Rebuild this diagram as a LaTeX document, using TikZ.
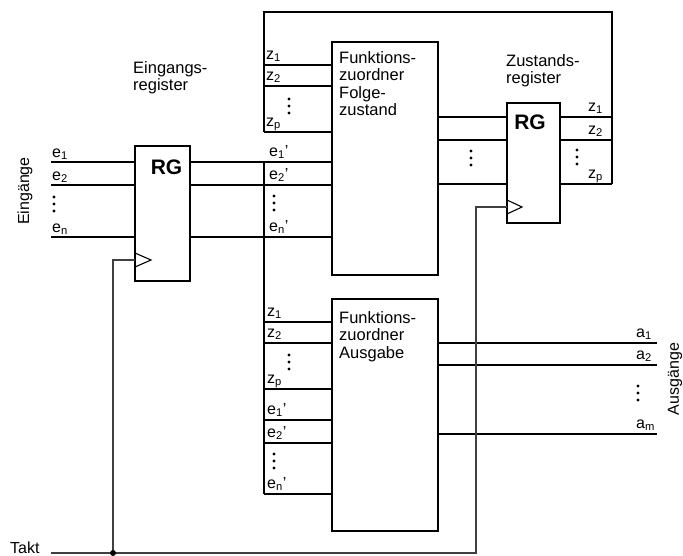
\documentclass[tikz,border=0pt]{standalone}
\usepackage{fontspec}
\setmainfont{Liberation Sans}
\begin{document}
\begin{tikzpicture}[x=1pt,y=-1pt,
	lbl/.style={font=\fontsize{16}{18}\selectfont, inner sep=0pt, anchor=base west},
	txt/.style={font=\fontsize{16.5}{17.5}\selectfont, inner sep=0pt, anchor=north west, align=left},
	regbox/.style={draw, line width=1.8pt, inner sep=0pt},
	rgtext/.style={font=\fontsize{21}{23}\selectfont\bfseries, inner sep=0pt},
	sig/.style={line width=1.1pt},
	bus/.style={line width=2.4pt},
	clk/.style={line width=1.1pt, black!75}]
	
	%----------------------
	% Hilfsmakros
	%----------------------
	\def\pkt#1#2{\foreach \d in {0,7,14} \fill (#1,#2+\d) circle (1.6pt);}
	\def\xbus{264}   % Sammelschiene
	\def\xrueck{612} % Rueckfuehrung
	\def\xaus{657}   % Ende Ausgaenge
	
	\useasboundingbox (0,0) rectangle (683,555);
	
	% Bloecke
	\node[regbox, minimum width=55pt, minimum height=135pt] (rgE) at (162.5,213.5) {};
	\node[regbox, minimum width=106pt, minimum height=233pt] (fzF) at (385,158.5) {};
	\node[regbox, minimum width=106pt, minimum height=232pt] (fzA) at (385,415) {};
	\node[regbox, minimum width=53pt, minimum height=120pt] (rgZ) at (533.5,163) {};
	
	\node[rgtext] (rgEt) at (166.5,167.5) {RG};
	\node[rgtext] (rgZt) at (530,122.5) {RG};
	\node[txt] (fzFt) at (339,51) {Funktions-\\zuordner\\Folge-\\zustand};
	\node[txt] (fzAt) at (339,311) {Funktions-\\zuordner\\Ausgabe};
	\node[txt] (regE) at (133,61) {Eingangs-\\register};
	\node[txt] (regZ) at (506,54) {Zustands-\\register};
	\node[lbl, rotate=90, anchor=center] (ein) at (25,191) {Eingänge};
	\node[lbl, rotate=90, anchor=center] (aus) at (675,379) {Ausgänge};
	\node[lbl] (takt) at (10,553) {Takt};
	
	%----------------------
	% Eingaenge
	%----------------------
	\foreach \y/\t [count=\i] in {162/1,185/2,237/n} {
		\coordinate (e\i) at (51,\y);
		\draw[sig] (e\i) -- (e\i -| rgE.west);
		\draw[sig] (e\i -| rgE.east) -- (e\i -| fzF.west);
		\node[lbl] at (52,\y-5) {e\textsubscript{\t}};
		\node[lbl] at (269,\y-6) {e\textsubscript{\t}'};
	}
	\pkt{54}{197}
	\pkt{274}{196}
	
	% Sammelschiene mit Rueckfuehrung
	\coordinate (bo) at (\xbus,12);
	\coordinate (bz) at (\xbus,132);
	\coordinate (ro) at (\xrueck,12);
	\coordinate (ru) at (\xrueck,184);
	\coordinate (bm) at (\xbus,162);
	\coordinate (bu) at (\xbus,494);
	\draw[bus] (bz) -- (bo) -- (ro) -- (ru);
	\draw[bus] (bm) -- (bu);
	
	% Zustaende zum Funktionszuordner Folgezustand
	\foreach \y/\t [count=\i] in {65/1,86/2,132/p} {
		\coordinate (zf\i) at (\xbus,\y);
		\draw[sig] (zf\i) -- (zf\i -| fzF.west);
		\node[lbl] at (266,\y-6) {z\textsubscript{\t}};
	}
	\pkt{289}{99}
	
	% Folgezustand -> Zustandsregister -> Rueckfuehrung
	\foreach \y/\t [count=\i] in {117/1,140/2,184/p} {
		\coordinate (zr\i) at (\xrueck,\y);
		\draw[sig] (zr\i -| fzF.east) -- (zr\i -| rgZ.west);
		\draw[sig] (zr\i -| rgZ.east) -- (zr\i);
		\node[lbl] at (588,\y-6) {z\textsubscript{\t}};
	}
	\pkt{471}{151}
	\pkt{577}{150}
	
	%----------------------
	% Funktionszuordner Ausgabe
	%----------------------
	\foreach \y/\t in {322/z\textsubscript{1},343/z\textsubscript{2},389/z\textsubscript{p},
		420/e\textsubscript{1}',443/e\textsubscript{2}',494/e\textsubscript{n}'} {
		\coordinate (za) at (\xbus,\y);
		\draw[sig] (za) -- (za -| fzA.west);
		\node[lbl] at (267,\y-6) {\t};
	}
	\pkt{289}{355}
	\pkt{274}{454}
	
	\foreach \y/\t [count=\i] in {343/1,365/2,434/m} {
		\coordinate (a\i) at (\xaus,\y);
		\draw[sig] (a\i -| fzA.east) -- (a\i);
		\node[lbl] at (636,\y-6) {a\textsubscript{\t}};
	}
	\pkt{638}{386}
	
	%----------------------
	% Takt
	%----------------------
	\coordinate (t0) at (51,553);
	\coordinate (kn) at (113,553);
	\coordinate (t1) at (476,553);
	\coordinate (ckE) at (135,260);
	\coordinate (ckZ) at (507,207);
	\draw[clk] (t0) -- (t1) -- (t1 |- ckZ) -- (ckZ);
	\draw[clk] (kn) -- (kn |- ckE) -- (ckE);
	\fill (kn) circle (3pt);
	\draw[sig] ([yshift=7pt]ckE) -- ++(16,7) -- ++(-16,7);
	\draw[sig] ([yshift=7pt]ckZ) -- ++(15,7) -- ++(-15,7);
	
\end{tikzpicture}
\end{document}
